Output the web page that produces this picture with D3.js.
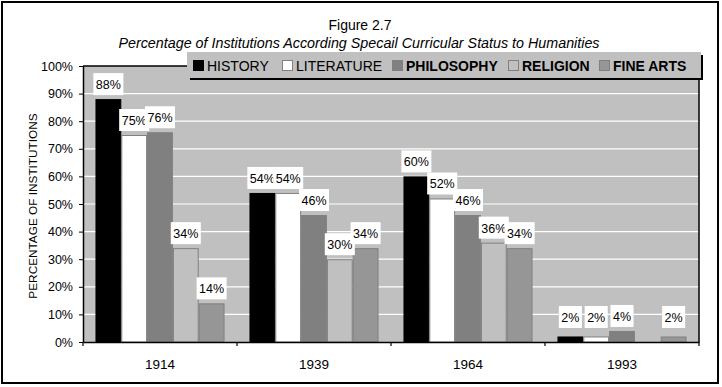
<!DOCTYPE html>
<html><head><meta charset="utf-8">
<script src="https://cdn.jsdelivr.net/npm/d3@7"></script>
<style>
html,body{margin:0;padding:0;background:#fff;}
svg{display:block;font-family:"Liberation Sans",Arial,sans-serif;}
</style></head>
<body>
<svg id="chart" width="722" height="387"></svg>
<script>
const categories = ["1914", "1939", "1964", "1993"];
const seriesNames = ["HISTORY", "LITERATURE", "PHILOSOPHY", "RELIGION", "FINE ARTS"];
const history    = [88, 54, 60, 2];
const literature = [75, 54, 52, 2];
const philosophy = [76, 46, 46, 4];
const religion   = [34, 30, 36, null];
const fineArts   = [14, 34, 34, 2];
const yTicks = [0, 10, 20, 30, 40, 50, 60, 70, 80, 90, 100];

const seriesValues = [history, literature, philosophy, religion, fineArts];
const fills   = ["#000000", "#ffffff", "#808080", "#c0c0c0", "#969696"];
const strokes = ["#000000", "#808080", "#808080", "#808080", "#808080"];
const legendBold = [false, false, true, true, true];

const svg = d3.select("#chart");
const font = '"Liberation Sans",Arial,sans-serif';

// outer frame
svg.append("rect").attr("x", 2).attr("y", 2).attr("width", 716).attr("height", 381)
  .attr("fill", "#fff").attr("stroke", "#000").attr("stroke-width", 2);

// titles
svg.append("text").attr("x", 360).attr("y", 30).attr("text-anchor", "middle")
  .attr("font-size", 14).text("Figure 2.7");
svg.append("text").attr("x", 359).attr("y", 48).attr("text-anchor", "middle")
  .attr("font-size", 14.3).attr("font-style", "italic")
  .text("Percentage of Institutions According Specail Curricular Status to Humanities");

const L = 83, R = 699, T = 66, B = 342;
const x0 = d3.scaleBand().domain(categories).range([L, R]).paddingInner(0.162).paddingOuter(0.081);
const x1 = d3.scaleBand().domain(seriesNames).range([0, x0.bandwidth()]);
const y = d3.scaleLinear().domain([0, 100]).range([B, T]);

// plot area
svg.append("rect").attr("x", L).attr("y", T).attr("width", R - L).attr("height", B - T)
  .attr("fill", "#c0c0c0");
svg.append("g").selectAll("line").data(yTicks.filter(d => d > 0 && d < 100)).join("line")
  .attr("x1", L).attr("x2", R).attr("y1", d => y(d)).attr("y2", d => y(d))
  .attr("stroke", "#fff").attr("stroke-width", 1.2);

// bars
const cells = [];
categories.forEach((c, ci) => seriesNames.forEach((s, si) => {
  const v = seriesValues[si][ci];
  if (v !== null && v !== undefined) cells.push({c, ci, s, si, v});
}));
svg.append("g").selectAll("rect").data(cells).join("rect")
  .attr("x", d => x0(d.c) + x1(d.s) + 0.5)
  .attr("y", d => y(d.v) + 0.5)
  .attr("width", x1.bandwidth() - 1)
  .attr("height", d => y(0) - y(d.v) - 0.5)
  .attr("fill", d => fills[d.si]).attr("stroke", d => strokes[d.si]).attr("stroke-width", 1);

// plot border (top/right) and axes
svg.append("line").attr("x1", L).attr("x2", R).attr("y1", T).attr("y2", T).attr("stroke", "#000").attr("stroke-width", 1.5);
svg.append("line").attr("x1", R).attr("x2", R).attr("y1", T).attr("y2", B).attr("stroke", "#000").attr("stroke-width", 1.5);

const yAxis = svg.append("g").attr("transform", `translate(${L},0)`)
  .call(d3.axisLeft(y).tickValues(yTicks).tickFormat(d => d + "%").tickSize(4).tickSizeOuter(0));
yAxis.select(".domain").attr("stroke", "#000").attr("stroke-width", 1.5);
yAxis.selectAll("text").attr("font-size", 12.5).attr("font-family", font).attr("fill", "#000").attr("dx", "-3");

const xAxis = svg.append("g").attr("transform", `translate(0,${B})`)
  .call(d3.axisBottom(x0).tickSize(0).tickSizeOuter(0));
xAxis.select(".domain").attr("stroke", "#000").attr("stroke-width", 1.5);
xAxis.selectAll("text").attr("font-size", 13.5).attr("font-family", font).attr("fill", "#000").attr("dy", "1.75em");
// category boundary ticks
const bounds = d3.range(categories.length + 1).map(i => L + i * (R - L) / categories.length);
svg.append("g").selectAll("line").data(bounds).join("line")
  .attr("x1", d => d).attr("x2", d => d).attr("y1", B).attr("y2", B + 4)
  .attr("stroke", "#000").attr("stroke-width", 1.2);

// y-axis title
svg.append("text").attr("transform", `translate(37,${(T + B) / 2 + 2}) rotate(-90)`)
  .attr("text-anchor", "middle").attr("font-size", 11.8).text("PERCENTAGE OF INSTITUTIONS");

// value labels
const lbl = svg.append("g").selectAll("g").data(cells).join("g")
  .attr("transform", d => `translate(${x0(d.c) + x1(d.s) + x1.bandwidth() / 2},${Math.min(y(d.v) - 4, y(0) - 14)})`);
lbl.each(function(d) {
  const g = d3.select(this);
  const t = g.append("text").attr("text-anchor", "middle").attr("y", -6)
    .attr("font-size", 12.5).text(d.v + "%");
  const w = t.node().getComputedTextLength();
  g.insert("rect", "text").attr("x", -w / 2 - 2.5).attr("y", -22).attr("width", w + 5).attr("height", 22)
    .attr("fill", "#fff");
});

// legend
const lg = svg.append("g");
lg.append("rect").attr("x", 190).attr("y", 55).attr("width", 513).attr("height", 25).attr("fill", "#000");
lg.append("rect").attr("x", 187).attr("y", 52).attr("width", 514).attr("height", 26).attr("fill", "#c0c0c0");
const legendX = [193, 282, 392, 508, 599];
seriesNames.forEach((s, i) => {
  lg.append("rect").attr("x", legendX[i] + 0.5).attr("y", 60.5).attr("width", 10).attr("height", 10)
    .attr("fill", fills[i]).attr("stroke", i === 0 ? "#000" : "#808080").attr("stroke-width", 1);
  lg.append("text").attr("x", legendX[i] + 14).attr("y", 70.5).attr("font-size", 14)
    .attr("font-weight", legendBold[i] ? "bold" : "normal").text(s);
});
</script>
</body></html>
